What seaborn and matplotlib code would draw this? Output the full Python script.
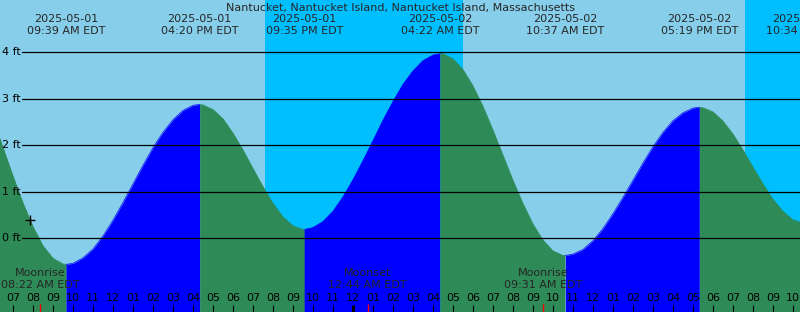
import numpy as np
import pandas as pd
import matplotlib
matplotlib.use("Agg")
import matplotlib.pyplot as plt
import matplotlib.dates as mdates
import matplotlib.transforms as mtransforms
import seaborn as sns

title = "Nantucket, Nantucket Island, Nantucket Island, Massachusetts"

# tide extremes (times from the labels, heights)
ext_times = ["2025-05-01 03:27", "2025-05-01 09:39", "2025-05-01 16:20", "2025-05-01 21:35",
             "2025-05-02 04:22", "2025-05-02 10:37", "2025-05-02 17:19", "2025-05-02 22:34"]
ext_heights = [4.34, -0.56, 2.88, 0.19, 3.97, -0.37, 2.82, 0.33]

# half-hourly tide heights (ft), 06:00 May 1 -> 22:30 May 2
curve_start, curve_end = "2025-05-01 06:00", "2025-05-02 22:30"
curve_heights = [2.56, 1.95, 1.34, 0.76, 0.25, -0.16, -0.43, -0.55, -0.54, -0.42, -0.23, 0.05,
                 0.39, 0.77, 1.17, 1.57, 1.95, 2.28, 2.55, 2.75, 2.86, 2.87, 2.77, 2.57, 2.26,
                 1.9, 1.5, 1.11, 0.75, 0.46, 0.27, 0.19, 0.23, 0.36, 0.58, 0.89, 1.26, 1.67,
                 2.1, 2.54, 2.94, 3.31, 3.6, 3.82, 3.94, 3.97, 3.86, 3.63, 3.28, 2.84, 2.33,
                 1.79, 1.25, 0.75, 0.31, -0.04, -0.27, -0.37, -0.34, -0.24, -0.05, 0.21, 0.53,
                 0.88, 1.25, 1.62, 1.97, 2.28, 2.53, 2.7, 2.8, 2.81, 2.72, 2.52, 2.24, 1.9,
                 1.53, 1.17, 0.84, 0.58, 0.4, 0.33]

night_start = ["2025-05-01 19:36", "2025-05-02 19:36"]
night_end = ["2025-05-02 05:30", "2025-05-03 05:30"]

moon_times = ["2025-05-01 08:22", "2025-05-02 00:44", "2025-05-02 09:31"]
moon_events = ["Moonrise", "Moonset", "Moonrise"]

now_time = "2025-05-01 07:51"
now_height = 0.40

ft_levels = [0, 1, 2, 3, 4]
x_start, x_end = "2025-05-01 06:21", "2025-05-02 22:21"

# ---- build the series incl. extremes, split into rising / falling segments
curve_times = pd.date_range(curve_start, curve_end, freq="30min")
ext_ts = pd.to_datetime(ext_times)
pts = pd.DataFrame({"t": list(curve_times), "h": curve_heights})
inside = (ext_ts >= curve_times[0]) & (ext_ts <= curve_times[-1])
pts = pd.concat([pts, pd.DataFrame({"t": ext_ts[inside], "h": np.array(ext_heights)[inside]})])
pts = pts.sort_values("t").drop_duplicates("t").reset_index(drop=True)

segs = []
for i in range(len(ext_ts) - 1):
    g = pts[(pts["t"] >= ext_ts[i]) & (pts["t"] <= ext_ts[i + 1])].copy()
    if g.empty:
        continue
    g["seg"] = i
    g["phase"] = "rising" if ext_heights[i + 1] > ext_heights[i] else "falling"
    segs.append(g)
curve = pd.concat(segs, ignore_index=True)

sns.set_style("white")
plt.rcParams["font.family"] = ["DejaVu Sans"]

fig = plt.figure(figsize=(8, 3.12), dpi=100)
ax = fig.add_axes([0, 0, 1, 1])
ax.set_facecolor("#87CEEB")
for s, e in zip(night_start, night_end):
    ax.axvspan(pd.Timestamp(s), pd.Timestamp(e), color="#00BFFF", lw=0, zorder=1)

palette = {"rising": "#0000FF", "falling": "#2E8B57"}
for k, g in curve.groupby("seg"):
    ax.fill_between(g["t"], g["h"], -3, color=palette[g["phase"].iloc[0]], lw=0, zorder=2)
sns.lineplot(data=curve, x="t", y="h", hue="phase", units="seg", estimator=None,
             palette=palette, lw=0.5, legend=False, ax=ax, zorder=2.5)

trans_y = mtransforms.blended_transform_factory(ax.transAxes, ax.transData)
for lv in ft_levels:
    ax.axhline(lv, xmin=22 / 800, xmax=1, color="black", lw=0.9, zorder=3)
    ax.text(2.5 / 800, lv, f"{lv} ft", transform=trans_y, ha="left", va="center",
            fontsize=8, color="black", zorder=4)

trans_x = mtransforms.blended_transform_factory(ax.transData, ax.transAxes)
ax.text(0.5, 1 - 7.5 / 312, title, transform=ax.transAxes, ha="center", va="center", fontsize=8)
for t in ext_ts[1:]:
    ax.text(t, 1 - 19 / 312, t.strftime("%Y-%m-%d"), transform=trans_x, ha="center", va="center", fontsize=8)
    ax.text(t, 1 - 31 / 312, t.strftime("%I:%M %p EDT"), transform=trans_x, ha="center", va="center", fontsize=8)

for t, ev in zip(pd.to_datetime(moon_times), moon_events):
    ax.text(t, 1 - 273.5 / 312, ev, transform=trans_x, ha="center", va="center", fontsize=8, zorder=4)
    ax.text(t, 1 - 285.5 / 312, t.strftime("%I:%M %p EDT"), transform=trans_x, ha="center", va="center", fontsize=8, zorder=4)
    ax.vlines(t, 0, 8.5 / 312, transform=trans_x, color="red", lw=1, zorder=7)

ax.vlines(pd.Timestamp("2025-05-02 00:00"), 0, 7.5 / 312, transform=trans_x, color="black", lw=2.2, zorder=7)

ax.plot([pd.Timestamp(now_time)], [now_height], marker="+", ms=6.5, mew=1, color="black", zorder=5)

ax.set_xlim(pd.Timestamp(x_start), pd.Timestamp(x_end))
ax.set_ylim(-1.585, 5.125)
ax.xaxis.set_major_locator(mdates.HourLocator())
ax.xaxis.set_major_formatter(mdates.DateFormatter("%I"))
ax.tick_params(axis="x", direction="in", length=5.2, width=0.8, pad=-14, labelsize=8,
               colors="black", bottom=True, labelbottom=True)
ax.tick_params(axis="y", left=False, labelleft=False)
ax.xaxis.set_zorder(6)
ax.set_xlabel("")
ax.set_ylabel("")
for sp in ax.spines.values():
    sp.set_visible(False)

fig.savefig("out.png", dpi=100)
